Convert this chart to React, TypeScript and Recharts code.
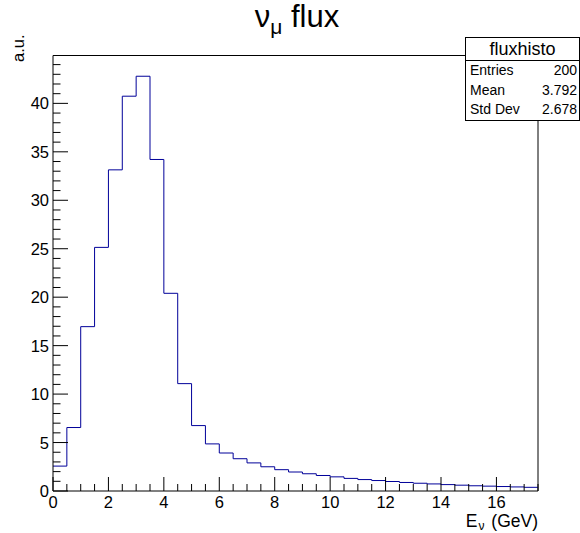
import React from "react";
import { ComposedChart, Line, XAxis, YAxis, ReferenceLine } from "recharts";

// Histogram "fluxhisto": 35 bins of 0.5 GeV from 0 to 17.5
const binLowEdges = [
  0, 0.5, 1, 1.5, 2, 2.5, 3, 3.5, 4, 4.5, 5, 5.5, 6, 6.5, 7, 7.5, 8, 8.5, 9, 9.5,
  10, 10.5, 11, 11.5, 12, 12.5, 13, 13.5, 14, 14.5, 15, 15.5, 16, 16.5, 17,
];
const binContents = [
  2.57, 6.55, 16.96, 25.14, 33.14, 40.74, 42.8, 34.21, 20.4, 11.08, 6.75, 4.86,
  3.92, 3.33, 2.9, 2.5, 2.2, 1.96, 1.78, 1.6, 1.46, 1.3, 1.18, 1.08, 0.98, 0.88,
  0.8, 0.73, 0.66, 0.6, 0.54, 0.5, 0.46, 0.42, 0.38,
];
const xMax = 17.5;
const yMax = 44.94;
const xLabelTicks = [0, 2, 4, 6, 8, 10, 12, 14, 16];
const yLabelTicks = [0, 5, 10, 15, 20, 25, 30, 35, 40];
const xAllTicks = Array.from({ length: 36 }, (_, i) => i * 0.5);
const yAllTicks = Array.from({ length: 45 }, (_, i) => i);

const statsName = "fluxhisto";
const statsRows = [
  ["Entries", "200"],
  ["Mean", "3.792"],
  ["Std Dev", "2.678"],
];

const data = binLowEdges
  .map((x, i) => ({ x, v: binContents[i] }))
  .concat([{ x: xMax, v: binContents[binContents.length - 1] }]);

const FONT = "'Liberation Sans', Arial, Helvetica, sans-serif";

const XTick = (props: any) => {
  const { x, y, payload } = props;
  const v = payload.value;
  const major = xLabelTicks.includes(v);
  return (
    <g>
      <line x1={x} x2={x} y1={y} y2={y - (major ? 14 : 7)} stroke="#000" strokeWidth={1} />
      {major && (
        <text x={x} y={y + 17} textAnchor="middle" fontSize={16.5} fontFamily={FONT} fill="#000">
          {v}
        </text>
      )}
    </g>
  );
};

const YTick = (props: any) => {
  const { x, y, payload } = props;
  const v = payload.value;
  const major = yLabelTicks.includes(v);
  return (
    <g>
      <line x1={x} x2={x + (major ? 15 : 7.5)} y1={y} y2={y} stroke="#000" strokeWidth={1} />
      {major && (
        <text x={x - 4} y={y + 6} textAnchor="end" fontSize={16.5} fontFamily={FONT} fill="#000">
          {v}
        </text>
      )}
    </g>
  );
};

export default function App() {
  return (
    <div
      style={{
        position: "absolute",
        left: 0,
        top: 0,
        width: 580,
        height: 533,
        background: "#fff",
        fontFamily: FONT,
      }}
    >
      <ComposedChart
        width={580}
        height={533}
        data={data}
        margin={{ top: 55.5, right: 42, bottom: 12, left: 13 }}
      >
        <XAxis
          dataKey="x"
          type="number"
          domain={[0, xMax]}
          ticks={xAllTicks}
          interval={0}
          allowDataOverflow
          height={30}
          tickSize={0}
          tickMargin={0}
          tickLine={false}
          axisLine={{ stroke: "#000", strokeWidth: 1 }}
          tick={<XTick />}
        />
        <YAxis
          type="number"
          domain={[0, yMax]}
          ticks={yAllTicks}
          interval={0}
          allowDataOverflow
          width={40}
          tickSize={0}
          tickMargin={0}
          tickLine={false}
          axisLine={{ stroke: "#000", strokeWidth: 1 }}
          tick={<YTick />}
        />
        <ReferenceLine y={yMax} stroke="#000" strokeWidth={1} ifOverflow="visible" />
        <ReferenceLine x={xMax} stroke="#000" strokeWidth={1} ifOverflow="visible" />
        <Line
          dataKey="v"
          type="stepAfter"
          stroke="#000099"
          strokeWidth={1}
          dot={false}
          activeDot={false}
          isAnimationActive={false}
        />
      </ComposedChart>

      {/* Title */}
      <div
        style={{
          position: "absolute",
          left: 0,
          width: 594,
          top: 0,
          textAlign: "center",
          fontSize: 31,
          lineHeight: "34px",
          color: "#000",
          whiteSpace: "nowrap",
        }}
      >
        ν<sub style={{ fontSize: 21, verticalAlign: "-7px" }}>μ</sub> flux
      </div>

      {/* Y axis title */}
      <div
        style={{
          position: "absolute",
          left: 8,
          top: 62,
          transformOrigin: "0 0",
          transform: "rotate(-90deg)",
          fontSize: 16.5,
          lineHeight: "20px",
          whiteSpace: "nowrap",
          color: "#000",
        }}
      >
        a.u.
      </div>

      {/* X axis title */}
      <div
        style={{
          position: "absolute",
          right: 580 - 538,
          top: 512,
          fontSize: 17.5,
          lineHeight: "18px",
          whiteSpace: "nowrap",
          color: "#000",
        }}
      >
        E<span style={{ fontSize: 12, position: "relative", top: 3, marginLeft: 1, marginRight: 2 }}>ν</span> (GeV)
      </div>

      {/* Stats box */}
      <div
        style={{
          position: "absolute",
          left: 465,
          top: 37,
          width: 115,
          height: 84,
          boxSizing: "border-box",
          border: "1px solid #000",
          background: "#fff",
          color: "#000",
        }}
      >
        <div
          style={{
            height: 22,
            borderBottom: "1px solid #000",
            textAlign: "center",
            fontSize: 18,
            lineHeight: "22px",
          }}
        >
          {statsName}
        </div>
        {statsRows.map(([k, v]) => (
          <div
            key={k}
            style={{
              display: "flex",
              justifyContent: "space-between",
              padding: "0 2px 0 4px",
              height: 19.6,
              lineHeight: "19.6px",
              fontSize: 14,
            }}
          >
            <span>{k}</span>
            <span>{v}</span>
          </div>
        ))}
      </div>
    </div>
  );
}
